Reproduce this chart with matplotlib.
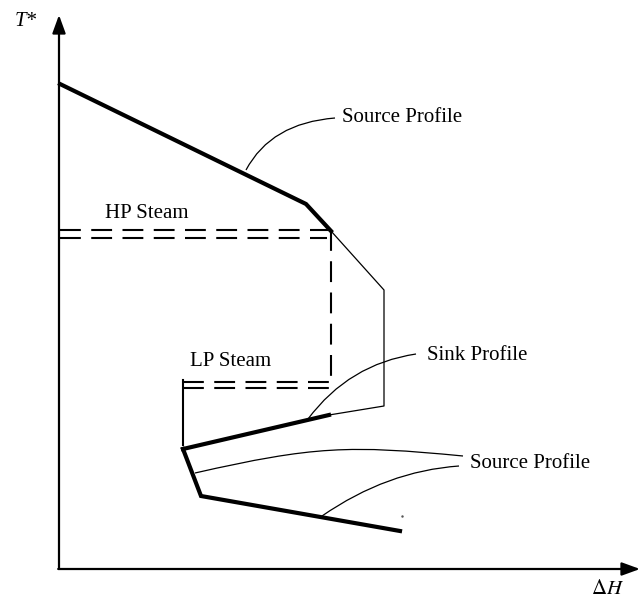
import matplotlib
matplotlib.use("Agg")
import matplotlib.pyplot as plt
from matplotlib.path import Path
from matplotlib.patches import PathPatch

# composite curve sketch, arbitrary units (origin at axis corner)
src_hi_x = [1, 247, 272]
src_hi_y = [485, 365, 338]
sink_thin_x = [272, 325, 325, 270]
sink_thin_y = [338, 279, 163, 154]
sink_thick_x = [270, 124]
sink_thick_y = [154, 120]
lp_stub_x = [124, 124]
lp_stub_y = [124, 189]
src_lo_x = [124, 142, 341]
src_lo_y = [120, 73, 38]

hp_levels = [339, 331]
hp_ends = [272, 268]
lp_levels = [187, 181]
lp_start = 124
steam_x = 272

labels = ["Source Profile", "Sink Profile", "Source Profile", "HP Steam", "LP Steam"]
label_pos = [(283, 451), (368, 214), (411, 106), (46, 356), (131, 207)]

# leader curves (start, control..., end)
leaders = [
    [(187, 399), (212, 446), (276, 451)],
    [(249, 150), (290, 205), (357, 215)],
    [(263, 53), (328, 98), (400, 103)],
]
leader_long = [(136, 96), (255, 123), (290, 124), (404, 113)]

XMAX, YMAX = 581, 554

plt.rcParams["font.family"] = ["Liberation Serif", "DejaVu Serif"]
plt.rcParams["mathtext.fontset"] = "stix"

fig = plt.figure(figsize=(6.4, 5.99), dpi=100)
ax = fig.add_axes([0, 0, 1, 1])
ax.set_xlim(-59, 581)
ax.set_ylim(-30, 569)
ax.axis("off")

K = "black"
# axes with arrows
head = "-|>,head_length=1.1,head_width=0.4"
ax.annotate("", xy=(0, YMAX), xytext=(0, 0),
            arrowprops=dict(arrowstyle=head, lw=1.6, color=K, shrinkA=0, shrinkB=0))
ax.annotate("", xy=(XMAX, 0), xytext=(-0.8, 0),
            arrowprops=dict(arrowstyle=head, lw=1.6, color=K, shrinkA=0, shrinkB=0))
ax.text(-33, 548, "T*", fontsize=15, fontstyle="italic", ha="center", va="center")
ax.text(549, -21, r"$\Delta H$", fontsize=15, ha="center", va="center")

# profiles
ax.plot(src_hi_x, src_hi_y, color=K, lw=3.0, solid_joinstyle="miter")
ax.plot(sink_thin_x, sink_thin_y, color=K, lw=0.9)
ax.plot(sink_thick_x, sink_thick_y, color=K, lw=3.0)
ax.plot(lp_stub_x, lp_stub_y, color=K, lw=1.5)
ax.plot(src_lo_x, src_lo_y, color=K, lw=3.0, solid_joinstyle="miter")

# steam levels (dashed)
for yv, xe in zip(hp_levels, hp_ends):
    ax.plot([1, xe], [yv, yv], color=K, lw=1.5, dashes=(10, 5))
for yv in lp_levels:
    ax.plot([lp_start, steam_x], [yv, yv], color=K, lw=1.5, dashes=(10, 5))
ax.plot([steam_x, steam_x], [hp_levels[0], lp_levels[0] - 2], color=K, lw=1.5,
        dashes=(10, 5))

# leaders
for pts in leaders:
    p = Path(pts, [Path.MOVETO, Path.CURVE3, Path.CURVE3])
    ax.add_patch(PathPatch(p, fill=False, lw=0.9, color=K))
p = Path(leader_long, [Path.MOVETO, Path.CURVE4, Path.CURVE4, Path.CURVE4])
ax.add_patch(PathPatch(p, fill=False, lw=0.9, color=K))
ax.plot([343], [53], marker=".", ms=1.5, color="#555555")

for s, (x, y) in zip(labels, label_pos):
    ax.text(x, y, s, fontsize=15, ha="left", va="center")

fig.savefig("out.png", dpi=100)
